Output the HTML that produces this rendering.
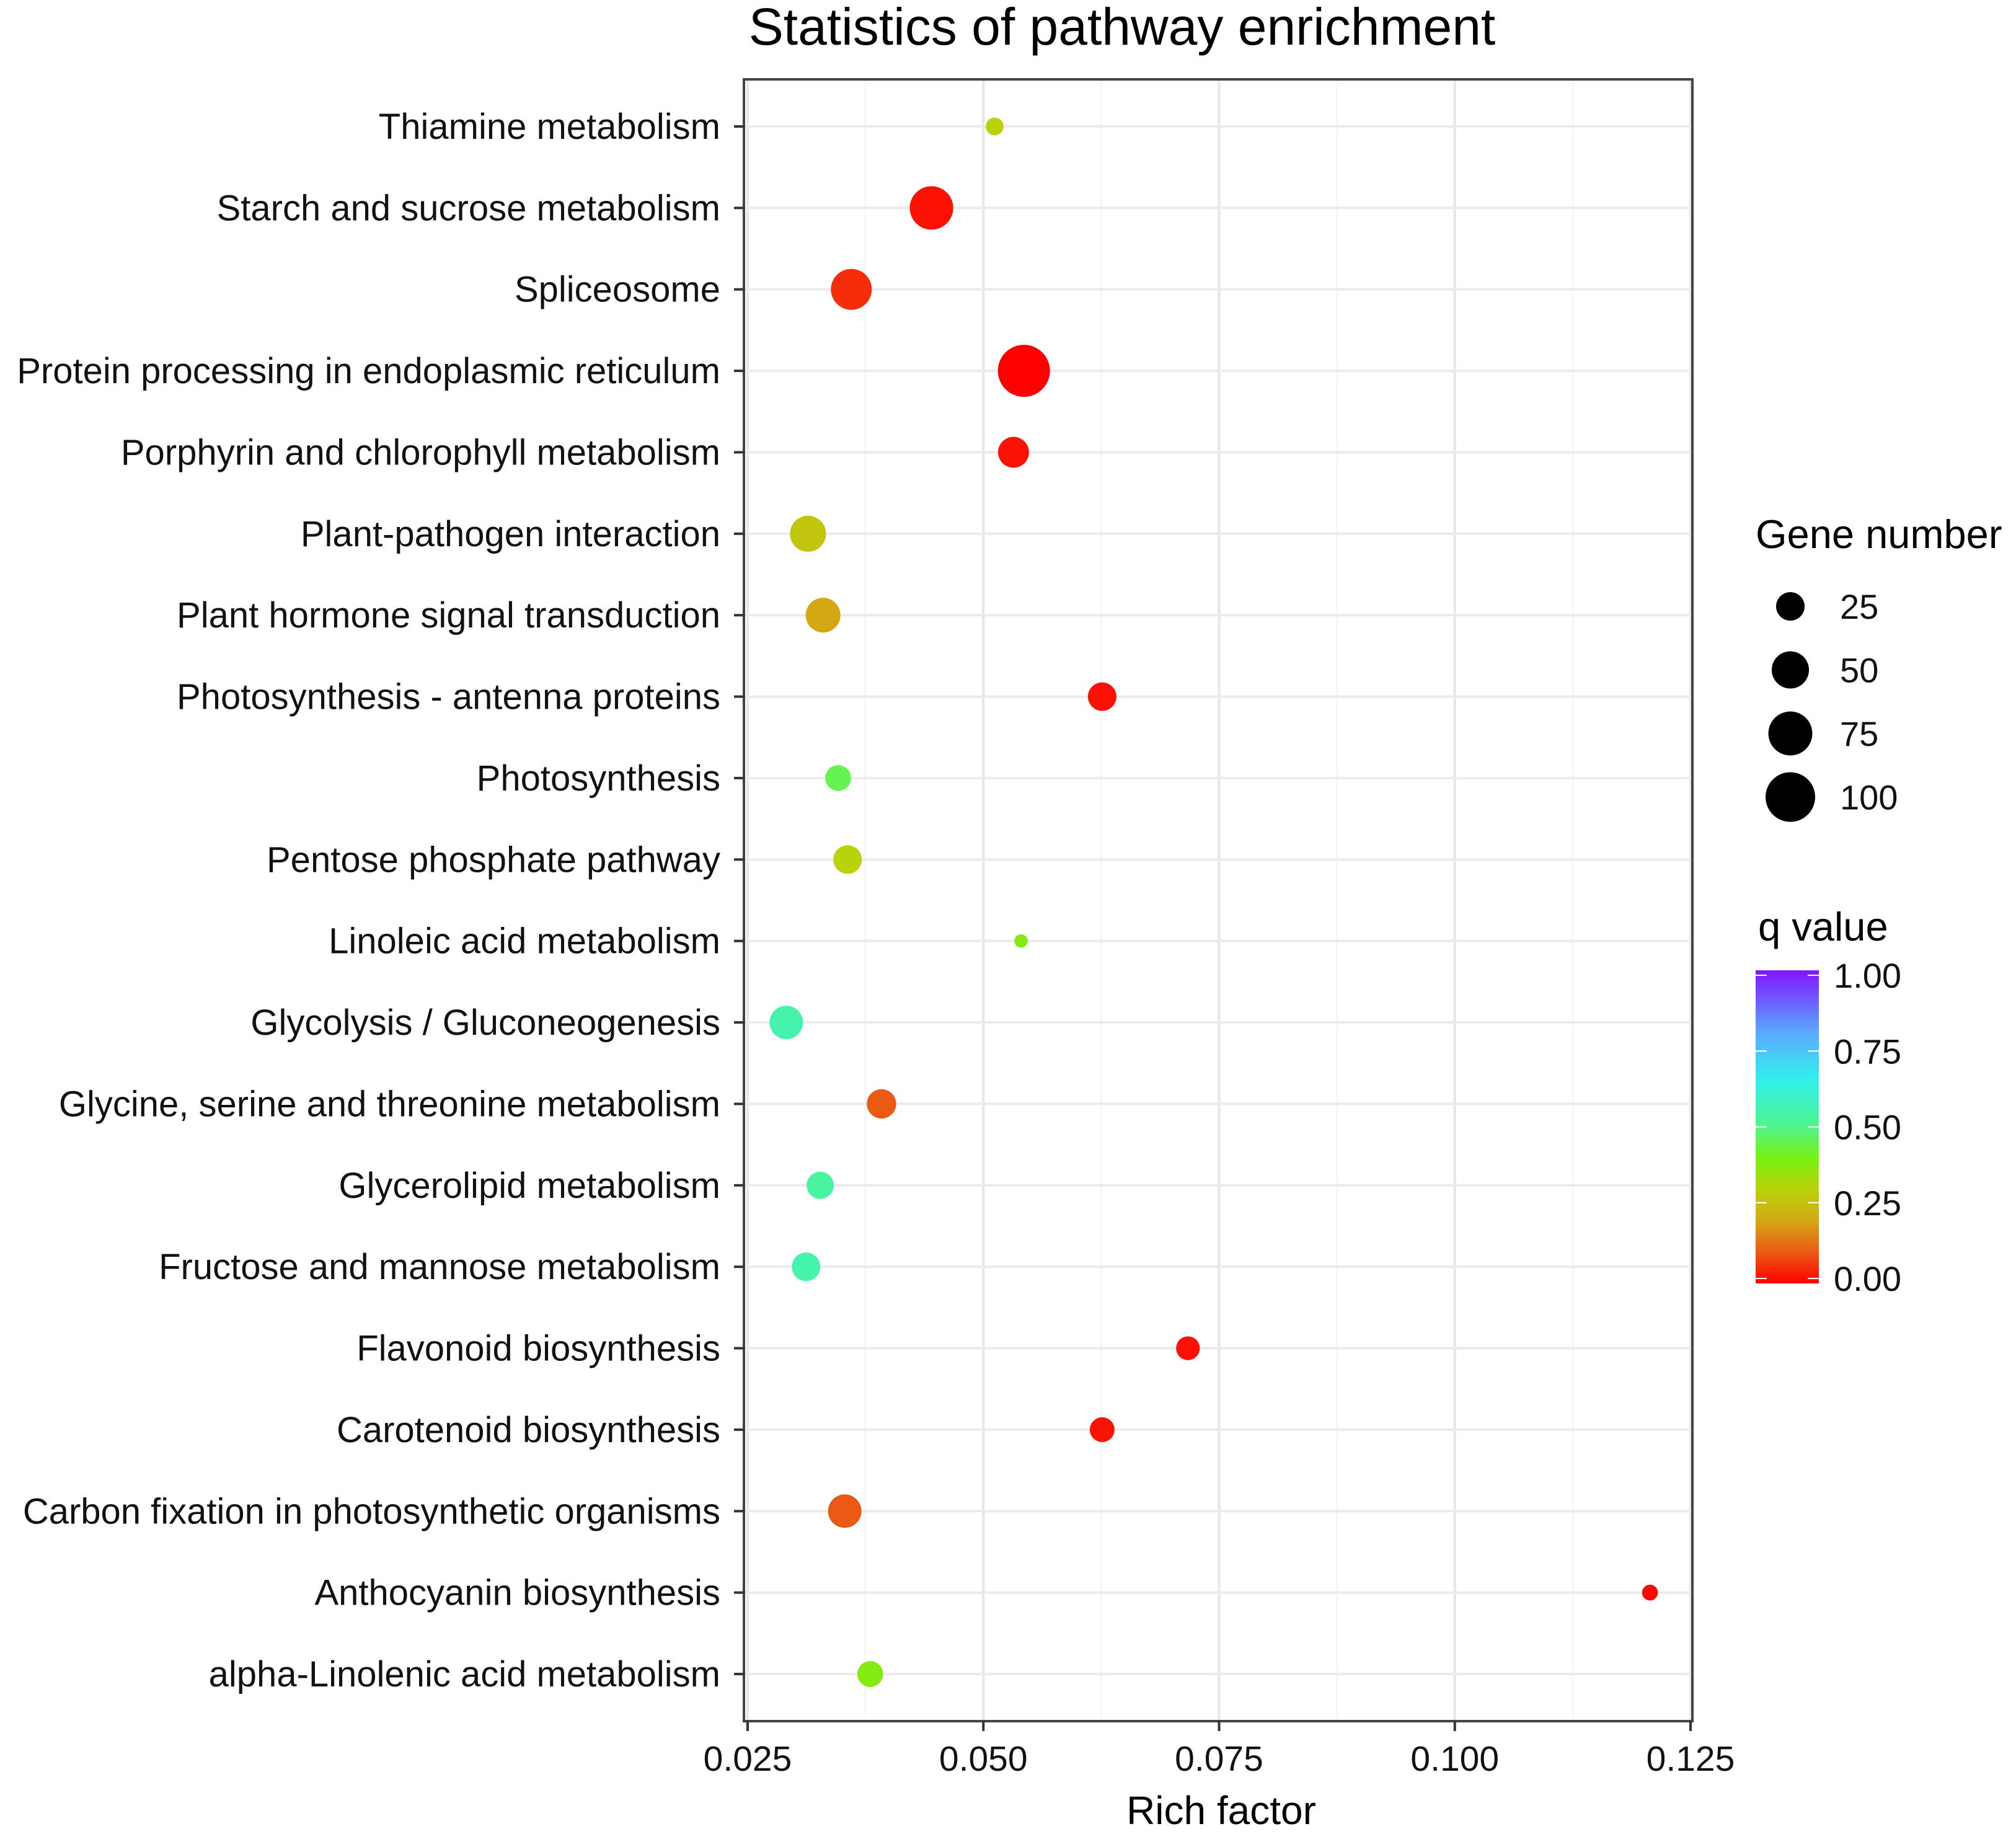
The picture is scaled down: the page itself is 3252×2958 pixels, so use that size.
<!DOCTYPE html>
<html><head><meta charset="utf-8"><style>
html,body{margin:0;padding:0;background:#fff;}
svg{display:block;font-family:"Liberation Sans",Arial,sans-serif;}
</style></head><body>
<svg id="chart" width="3252" height="2958" viewBox="0 0 3252 2958" xmlns="http://www.w3.org/2000/svg">
<rect width="3252" height="2958" fill="#fff"/>
<text x="1810" y="72" font-size="84" text-anchor="middle" fill="#000">Statistics of pathway enrichment</text>
<g id="grid"></g>
<g id="points"></g>
<rect x="1200" y="128" width="1530" height="2648" fill="none" stroke="#444" stroke-width="4"/>
<g id="axes"></g>
<text x="1970" y="2942" font-size="64" text-anchor="middle" fill="#000">Rich factor</text>
<g id="legend"></g>
</svg>
<script>
const pathways = ["Thiamine metabolism","Starch and sucrose metabolism","Spliceosome","Protein processing in endoplasmic reticulum","Porphyrin and chlorophyll metabolism","Plant-pathogen interaction","Plant hormone signal transduction","Photosynthesis - antenna proteins","Photosynthesis","Pentose phosphate pathway","Linoleic acid metabolism","Glycolysis / Gluconeogenesis","Glycine, serine and threonine metabolism","Glycerolipid metabolism","Fructose and mannose metabolism","Flavonoid biosynthesis","Carotenoid biosynthesis","Carbon fixation in photosynthetic organisms","Anthocyanin biosynthesis","alpha-Linolenic acid metabolism"];
const richFactor = [0.0512,0.0445,0.036,0.0543,0.0532,0.0314,0.033,0.0626,0.0346,0.0356,0.054,0.0291,0.0392,0.0327,0.0312,0.0717,0.0626,0.0353,0.1207,0.038];
const geneNumber = [6,73,63,112,31,46,42,25,19,25,2,38,27,22,25,15,17,38,4,19];
const qValue = [0.3,0.02,0.05,0.0,0.02,0.27,0.2,0.02,0.45,0.3,0.38,0.55,0.1,0.53,0.55,0.02,0.02,0.1,0.01,0.38];
const xTicks = [0.025,0.050,0.075,0.100,0.125];
const xTickLabels = ["0.025","0.050","0.075","0.100","0.125"];
const sizeBreaks = [25,50,75,100];
const qTicks = [1.00,0.75,0.50,0.25,0.00];
const qTickLabels = ["1.00","0.75","0.50","0.25","0.00"];

const NS="http://www.w3.org/2000/svg";
function mk(tag,attrs,parent){const e=document.createElementNS(NS,tag);for(const k in attrs)e.setAttribute(k,attrs[k]);parent.appendChild(e);return e;}
const xScale=v=>1206+(v-0.025)/0.1*1521;
const yScale=i=>204+i*(2700-204)/(pathways.length-1);
const rScale=n=>6+3.4*Math.sqrt(n);
const cStops=[[0,[255,0,0]],[0.1,[235,90,20]],[0.2,[212,168,20]],[0.3,[185,210,10]],[0.4,[120,240,20]],[0.5,[80,245,140]],[0.65,[50,240,235]],[0.8,[90,170,255]],[1,[130,20,255]]];
function qColor(q){
  for(let i=1;i<cStops.length;i++){
    if(q<=cStops[i][0]){const a=cStops[i-1],b=cStops[i];const t=(q-a[0])/(b[0]-a[0]);
      const c=a[1].map((v,k)=>Math.round(v+(b[1][k]-v)*t));return `rgb(${c[0]},${c[1]},${c[2]})`;}
  }
  const c=cStops[cStops.length-1][1];return `rgb(${c[0]},${c[1]},${c[2]})`;
}

const grid=document.getElementById('grid');
for(let i=0;i<xTicks.length;i++){
  const gl=mk('line',{x1:xScale(xTicks[i]),x2:xScale(xTicks[i]),y1:128,y2:2776,stroke:'#e6e6e6','stroke-width':4},grid);
  
  
  if(i<xTicks.length-1){
    const m=(xTicks[i]+xTicks[i+1])/2;
    const gm=mk('line',{x1:xScale(m),x2:xScale(m),y1:128,y2:2776,stroke:'#f2f2f2','stroke-width':2},grid);
    
    
  }
}
pathways.forEach((p,i)=>{
  const gl=mk('line',{x1:1200,x2:2730,y1:yScale(i),y2:yScale(i),stroke:'#ebebeb','stroke-width':4},grid);
  
  
});
const pts=document.getElementById('points');
pathways.forEach((p,i)=>{
  const c=mk('circle',{cx:xScale(richFactor[i]),cy:yScale(i),r:rScale(geneNumber[i]),fill:qColor(qValue[i])},pts);
  
  
});
const axes=document.getElementById('axes');
pathways.forEach((p,i)=>{
  const t=mk('text',{x:1162,y:yScale(i)+20,'font-size':58,'text-anchor':'end',fill:'#111'},axes);
  t.textContent=p;
  
  
  const tk=mk('line',{x1:1184,x2:1200,y1:yScale(i),y2:yScale(i),stroke:'#333','stroke-width':4},axes);
  
  
});
xTicks.forEach((v,i)=>{
  const tk=mk('line',{x1:xScale(v),x2:xScale(v),y1:2776,y2:2792,stroke:'#333','stroke-width':4},axes);
  
  
  const t=mk('text',{x:xScale(v),y:2856,'font-size':57,'text-anchor':'middle',fill:'#111'},axes);
  t.textContent=xTickLabels[i];
  
  
});
const lg=document.getElementById('legend');
const st=mk('text',{x:2832,y:884,'font-size':65,fill:'#000'},lg);
st.textContent='Gene number';


sizeBreaks.forEach((n,i)=>{
  const y=978+i*102.5;
  const c=mk('circle',{cx:2888,cy:y,r:rScale(n),fill:'#000'},lg);
  
  
  const t=mk('text',{x:2968,y:y+20,'font-size':56,fill:'#111'},lg);
  t.textContent=n;
  
  
});
const qt=mk('text',{x:2836,y:1517,'font-size':65,fill:'#000'},lg);
qt.textContent='q value';


const defs=mk('defs',{},lg);
const grad=mk('linearGradient',{id:'qg',x1:0,y1:1,x2:0,y2:0},defs);
for(let k=0;k<=20;k++){mk('stop',{offset:k/20,'stop-color':qColor(k/20)},grad);}
const bar=mk('rect',{x:2832,y:1565,width:102,height:505,fill:'url(#qg)'},lg);


const qy=q=>2062-q*(2062-1573);
qTicks.forEach((q,i)=>{
  const t=mk('text',{x:2958,y:qy(q)+20,'font-size':56,fill:'#111'},lg);
  t.textContent=qTickLabels[i];
  
  
  const l1=mk('line',{x1:2832,x2:2850,y1:qy(q),y2:qy(q),stroke:'#fff','stroke-width':2},lg);
  
  
  const l2=mk('line',{x1:2916,x2:2934,y1:qy(q),y2:qy(q),stroke:'#fff','stroke-width':2},lg);
  
  
});
</script>
</body></html>
